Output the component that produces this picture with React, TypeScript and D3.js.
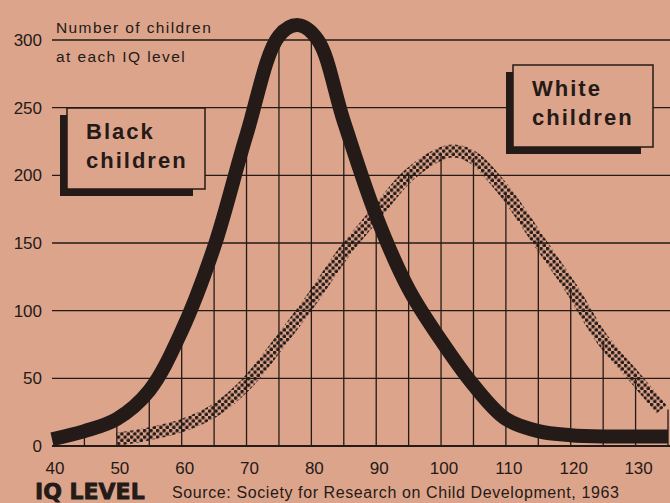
import React from 'react';
import * as d3 from 'd3';

// values
const blackIQ = [40, 45, 50, 55, 60, 65, 70, 75, 78, 81, 85, 90, 95, 100, 105, 110, 115, 120, 125, 130, 135];
const blackCount = [5, 11, 20, 41, 85, 147, 230, 303, 311, 300, 240, 170, 116, 78, 45, 20, 11, 8, 7, 7, 7];

const whiteIQ = [50, 55, 60, 65, 70, 75, 80, 85, 90, 95, 100, 102, 105, 110, 115, 120, 125, 130, 134];
const whiteCount = [5, 9, 15, 26, 46, 76, 108, 143, 172, 200, 216, 218, 213, 187, 152, 117, 78, 50, 27];

const yTicks = [0, 50, 100, 150, 200, 250, 300];
const xTicks = [40, 50, 60, 70, 80, 90, 100, 110, 120, 130];
const gridIQ = [45, 50, 55, 60, 65, 70, 75, 80, 85, 90, 95, 100, 105, 110, 115, 120, 125, 130, 135];

const paper = '#dda48c';
const ink = '#241a17';

export default function App() {
    const width = 670, height = 503;

    const x = d3.scaleLinear().domain([40, 135]).range([52, 668]);
    const y = d3.scaleLinear().domain([0, 300]).range([446, 40]);

    const blackAt = d3.scaleLinear().domain(blackIQ).range(blackCount).clamp(true);
    const whiteAt = d3.scaleLinear().domain(whiteIQ).range(whiteCount).clamp(true);

    const blackLine = d3.line<number>()
        .x((d, i) => x(blackIQ[i]))
        .y(d => y(d))
        .curve(d3.curveCatmullRom.alpha(0.5));

    const whiteLine = d3.line<number>()
        .x((d, i) => x(whiteIQ[i]))
        .y(d => y(d))
        .curve(d3.curveCatmullRom.alpha(0.5));

    // vertical rules only rise up to the curves
    const ruleTop = (iq: number) => Math.max(blackAt(iq), iq >= whiteIQ[0] ? whiteAt(iq) : 0);

    const labelBox = (bx: number, by: number, w: number, h: number, lines: string[]) => (
        <g>
            <rect x={bx - 7} y={by + 7} width={w - 5} height={h} fill={ink} />
            <rect x={bx} y={by} width={w} height={h} fill={paper} stroke={ink} strokeWidth={1.5} />
            {lines.map((t, i) => (
                <text key={t} x={bx + 19} y={by + 31 + i * 29} fontFamily="Arial, 'Liberation Sans', sans-serif"
                    fontWeight="bold" fontSize={22} letterSpacing={2} fill={ink}>{t}</text>
            ))}
        </g>
    );

    return (
        <svg width={width} height={height} style={{ position: 'absolute', left: 0, top: 0 }}>
            <defs>
                <pattern id="dots" width={6.5} height={6.5} patternUnits="userSpaceOnUse">
                    <circle cx={1.6} cy={1.6} r={1.8} fill={ink} />
                    <circle cx={4.85} cy={4.85} r={1.8} fill={ink} />
                </pattern>
            </defs>
            <rect width={width} height={height} fill={paper} />

            {/* horizontal grid */}
            {yTicks.map(v => (
                <line key={v} x1={52} x2={670} y1={y(v)} y2={y(v)} stroke={ink} strokeWidth={v === 0 ? 1.8 : 1.4} />
            ))}
            {/* vertical rules */}
            {gridIQ.map(v => (
                <line key={v} x1={x(v)} x2={x(v)} y1={y(0)} y2={y(ruleTop(v))} stroke={ink} strokeWidth={1.3} />
            ))}

            {/* y tick labels */}
            {yTicks.map(v => (
                <text key={v} x={42} y={y(v) + 6} textAnchor="end" fontFamily="Arial, 'Liberation Sans', sans-serif"
                    fontSize={17} fill={ink}>{v}</text>
            ))}
            {/* x tick labels */}
            {xTicks.map(v => (
                <text key={v} x={x(v) + 3} y={474} textAnchor="middle" fontFamily="Arial, 'Liberation Sans', sans-serif"
                    fontSize={17} fill={ink}>{v}</text>
            ))}

            <text x={56} y={33} fontFamily="Arial, 'Liberation Sans', sans-serif" fontSize={15.5} letterSpacing={1.4} fill={ink}>Number of children</text>
            <text x={56} y={62} fontFamily="Arial, 'Liberation Sans', sans-serif" fontSize={15.5} letterSpacing={1.4} fill={ink}>at each IQ level</text>

            {/* white children, halftone band */}
            <path d={whiteLine(whiteCount) || ''} fill="none" stroke="url(#dots)" strokeWidth={13} />
            {/* black children, heavy line */}
            <path d={blackLine(blackCount) || ''} fill="none" stroke={ink} strokeWidth={14} />

            {labelBox(67, 108, 138, 81, ['Black', 'children'])}
            {labelBox(513, 65, 140, 82, ['White', 'children'])}

            <text x={35} y={499} fontFamily="'DejaVu Sans', sans-serif" fontWeight="bold" fontSize={22}
                stroke={ink} strokeWidth={0.8} fill={ink}>IQ LEVEL</text>
            <text x={172} y={498} fontFamily="Arial, 'Liberation Sans', sans-serif" fontSize={16} letterSpacing={0.6}
                fill={ink}>Source: Society for Research on Child Development, 1963</text>
        </svg>
    );
}
